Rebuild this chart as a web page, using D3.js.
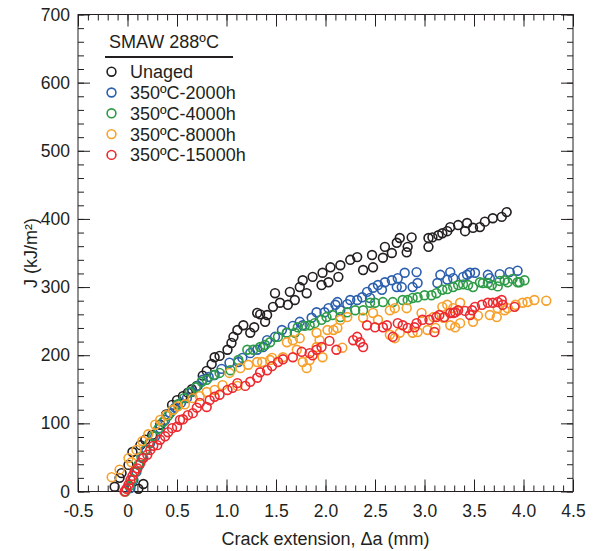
<!DOCTYPE html>
<html><head><meta charset="utf-8">
<script src="https://cdn.jsdelivr.net/npm/d3@7"></script>
<style>
html,body{margin:0;padding:0;background:#fff;}
text{font-family:"Liberation Sans",Arial,Helvetica,sans-serif;fill:#231f20;}
</style></head>
<body><svg id="c" width="595" height="551"></svg>
<script>
const seriesNames = ["Unaged","350ºC-2000h","350ºC-4000h","350ºC-8000h","350ºC-15000h"];
const seriesColors = ["#231f20","#2b5fad","#2e9b46","#f7a12c","#ec2a2f"];
const legendTitle = "SMAW 288ºC";
const xTickValues = [-0.5,0,0.5,1.0,1.5,2.0,2.5,3.0,3.5,4.0,4.5];
const xTickLabels = ["-0.5","0","0.5","1.0","1.5","2.0","2.5","3.0","3.5","4.0","4.5"];
const yTickValues = [0,100,200,300,400,500,600,700];
const yTickLabels = ["0","100","200","300","400","500","600","700"];
const xTitle = "Crack extension, Δa (mm)";
const yTitle = "J (kJ/m²)";

const unaged = [[-0.13,7],[-0.08,20],[-0.06,27],[0.01,39],[0.05,58],[0.16,11],[0.11,4],[0.13,68],[0.18,76],[0.25,83],[0.33,98],[0.39,113],[0.45,127],[0.50,134],[0.56,140],[0.61,145],[0.65,150],[0.70,155],[0.76,170],[0.80,177],[0.85,187],[0.88,197],[0.93,199],[1.01,208],[1.05,218],[1.07,227],[1.11,237],[1.17,244],[1.24,233],[1.28,241],[1.31,262],[1.34,260],[1.39,249],[1.41,259],[1.47,271],[1.49,291],[1.54,277],[1.62,274],[1.64,293],[1.69,281],[1.74,300],[1.77,310],[1.81,291],[1.87,315],[1.96,303],[1.97,321],[2.03,307],[2.05,329],[2.13,315],[2.15,332],[2.25,340],[2.32,344],[2.38,325],[2.47,347],[2.48,329],[2.58,343],[2.60,359],[2.67,350],[2.72,365],[2.75,372],[2.82,351],[2.83,359],[2.87,373],[3.04,372],[3.04,359],[3.08,373],[3.14,376],[3.18,379],[3.23,382],[3.26,388],[3.34,391],[3.41,382],[3.43,394],[3.49,387],[3.56,388],[3.61,396],[3.69,401],[3.78,403],[3.83,410]];
const aged2000 = [[0.03,5],[0.06,17],[0.09,29],[0.12,39],[0.15,49],[0.19,61],[0.23,71],[0.28,81],[0.33,93],[0.38,105],[0.43,115],[0.48,123],[0.54,130],[0.60,137],[0.65,146],[0.71,155],[0.76,164],[0.82,168],[0.88,171],[0.95,180],[1.03,189],[1.12,190],[1.16,196],[1.24,203],[1.31,208],[1.37,212],[1.41,222],[1.49,227],[1.56,237],[1.61,233],[1.67,243],[1.74,249],[1.77,244],[1.86,255],[1.91,263],[1.99,263],[2.03,269],[2.10,274],[2.12,278],[2.15,266],[2.22,275],[2.25,281],[2.32,281],[2.37,285],[2.42,293],[2.45,284],[2.48,299],[2.53,303],[2.57,296],[2.60,307],[2.67,310],[2.72,300],[2.73,313],[2.77,300],[2.80,321],[2.88,300],[2.92,322],[2.93,306],[3.13,306],[3.16,318],[3.23,311],[3.26,322],[3.29,313],[3.39,315],[3.43,318],[3.46,321],[3.51,321],[3.64,318],[3.66,313],[3.76,319],[3.86,322],[3.94,324]];
const aged4000 = [[-0.02,0],[0.02,8],[0.05,18],[0.08,29],[0.11,39],[0.14,51],[0.18,61],[0.22,71],[0.26,81],[0.31,92],[0.36,102],[0.41,111],[0.46,120],[0.51,128],[0.57,137],[0.63,146],[0.69,153],[0.75,161],[0.80,164],[0.87,171],[0.93,174],[1.04,178],[1.12,193],[1.21,208],[1.27,208],[1.34,212],[1.39,215],[1.44,219],[1.52,227],[1.61,233],[1.69,233],[1.72,241],[1.79,243],[1.84,244],[1.89,247],[1.96,252],[2.01,256],[2.07,259],[2.15,256],[2.22,263],[2.30,266],[2.38,266],[2.45,277],[2.50,277],[2.58,278],[2.68,278],[2.78,281],[2.83,281],[2.88,284],[2.93,285],[3.00,288],[3.07,288],[3.12,291],[3.18,296],[3.23,297],[3.29,300],[3.34,303],[3.39,304],[3.44,303],[3.49,300],[3.56,307],[3.59,306],[3.64,306],[3.68,303],[3.74,301],[3.76,309],[3.81,310],[3.84,307],[3.89,312],[3.94,307],[3.96,307],[4.01,310]];
const aged8000 = [[-0.16,21],[-0.08,32],[0.01,49],[0.04,43],[0.09,61],[0.15,74],[0.21,84],[0.28,98],[0.33,105],[0.39,112],[0.46,120],[0.51,125],[0.58,128],[0.66,137],[0.73,140],[0.80,146],[0.88,149],[0.96,156],[1.03,174],[1.11,155],[1.14,181],[1.22,186],[1.31,190],[1.36,190],[1.44,193],[1.46,196],[1.57,197],[1.61,219],[1.67,222],[1.71,208],[1.74,225],[1.77,190],[1.81,181],[1.84,193],[1.91,233],[1.91,212],[1.94,222],[1.97,197],[2.02,237],[2.08,237],[2.12,240],[2.15,252],[2.17,211],[2.22,256],[2.38,255],[2.48,262],[2.53,252],[2.65,266],[2.65,230],[2.70,269],[2.70,225],[2.75,233],[2.82,269],[2.88,233],[2.93,234],[2.97,262],[3.03,237],[3.09,256],[3.11,240],[3.18,271],[3.19,255],[3.23,274],[3.26,244],[3.29,269],[3.31,241],[3.36,277],[3.36,247],[3.49,249],[3.54,258],[3.66,259],[3.73,256],[3.74,269],[3.81,266],[3.84,269],[3.92,274],[3.99,277],[4.04,278],[4.11,281],[4.23,280]];
const aged15000 = [[-0.03,0],[-0.01,4],[0.01,10],[0.03,17],[0.05,23],[0.07,29],[0.10,34],[0.13,42],[0.16,49],[0.20,54],[0.23,61],[0.26,67],[0.30,68],[0.33,76],[0.38,81],[0.41,87],[0.45,93],[0.50,95],[0.53,105],[0.56,106],[0.61,112],[0.66,115],[0.70,123],[0.73,130],[0.80,124],[0.83,134],[0.88,139],[0.93,142],[1.01,149],[1.06,152],[1.11,159],[1.19,155],[1.24,161],[1.31,167],[1.34,175],[1.41,178],[1.46,184],[1.52,190],[1.57,194],[1.67,197],[1.76,205],[1.84,203],[1.87,200],[1.91,208],[1.96,212],[2.04,221],[2.11,208],[2.28,222],[2.32,227],[2.35,219],[2.38,212],[2.42,244],[2.50,241],[2.58,241],[2.62,244],[2.68,227],[2.73,247],[2.78,244],[2.83,240],[2.90,241],[2.92,247],[2.98,252],[3.05,252],[3.10,234],[3.12,256],[3.15,259],[3.20,256],[3.26,262],[3.29,262],[3.31,263],[3.34,266],[3.41,265],[3.46,259],[3.48,266],[3.51,271],[3.58,274],[3.64,277],[3.69,277],[3.74,278],[3.78,281],[3.79,274],[3.91,271]];
const seriesData = [unaged, aged2000, aged4000, aged8000, aged15000];

const svg = d3.select("#c");
const x = d3.scaleLinear().domain([-0.5,4.5]).range([78,573]);
const y = d3.scaleLinear().domain([0,700]).range([491.5,14.5]);
const axCol = "#231f20";

svg.append("rect").attr("x",x(-0.5)).attr("y",y(700)).attr("width",x(4.5)-x(-0.5)).attr("height",y(0)-y(700))
  .attr("fill","none").attr("stroke",axCol).attr("stroke-width",1);

function styleAxis(g){ g.select(".domain").remove(); g.selectAll("line").attr("stroke",axCol).attr("stroke-width",1); g.selectAll("text").attr("font-size",17.5).style("fill",axCol).attr("font-family","Liberation Sans, Arial, sans-serif"); }

const xMinor = d3.range(-5,46).map(i=>i/10);
const yMinor = d3.range(0,36).map(i=>i*20);
svg.append("g").attr("transform",`translate(0,${y(0)})`).call(d3.axisBottom(x).tickValues(xMinor).tickSize(-6).tickFormat("")).call(styleAxis);
svg.append("g").attr("transform",`translate(0,${y(0)})`).call(d3.axisBottom(x).tickValues(xTickValues).tickSize(-12).tickPadding(13).tickFormat((d,i)=>xTickLabels[i])).call(styleAxis);
svg.append("g").attr("transform",`translate(0,${y(700)})`).call(d3.axisTop(x).tickValues(xMinor).tickSize(-6).tickFormat("")).call(styleAxis);
svg.append("g").attr("transform",`translate(0,${y(700)})`).call(d3.axisTop(x).tickValues(xTickValues).tickSize(-12).tickFormat("")).call(styleAxis);
svg.append("g").attr("transform",`translate(${x(-0.5)},0)`).call(d3.axisLeft(y).tickValues(yMinor).tickSize(-6).tickFormat("")).call(styleAxis);
svg.append("g").attr("transform",`translate(${x(-0.5)},0)`).call(d3.axisLeft(y).tickValues(yTickValues).tickSize(-12).tickPadding(8).tickFormat((d,i)=>yTickLabels[i])).call(styleAxis);
svg.append("g").attr("transform",`translate(${x(4.5)},0)`).call(d3.axisRight(y).tickValues(yMinor).tickSize(-6).tickFormat("")).call(styleAxis);
svg.append("g").attr("transform",`translate(${x(4.5)},0)`).call(d3.axisRight(y).tickValues(yTickValues).tickSize(-12).tickFormat("")).call(styleAxis);

seriesData.forEach((data,si)=>{
  svg.append("g").selectAll("circle").data(data).join("circle")
    .attr("cx",d=>x(d[0])).attr("cy",d=>y(d[1])).attr("r",4.4)
    .attr("fill","none").attr("stroke",seriesColors[si]).attr("stroke-width",1.6);
});

svg.append("text").attr("x",(x(-0.5)+x(4.5))/2).attr("y",545).attr("text-anchor","middle").attr("font-size",18).text(xTitle);
svg.append("text").attr("transform",`translate(37,${(y(0)+y(700))/2}) rotate(-90)`).attr("text-anchor","middle").attr("font-size",18).text(yTitle);

const lg = svg.append("g");
lg.append("text").attr("x",109).attr("y",48).attr("font-size",18).text(legendTitle);
lg.append("line").attr("x1",105).attr("x2",233).attr("y1",57).attr("y2",57).attr("stroke",axCol).attr("stroke-width",2);
seriesNames.forEach((n,i)=>{
  const cy = 71.7 + i*20.8;
  lg.append("circle").attr("cx",111.5).attr("cy",cy).attr("r",4.4).attr("fill","none").attr("stroke",seriesColors[i]).attr("stroke-width",1.6);
  lg.append("text").attr("x",130).attr("y",cy+6.5).attr("font-size",18).text(n);
});
</script></body></html>
